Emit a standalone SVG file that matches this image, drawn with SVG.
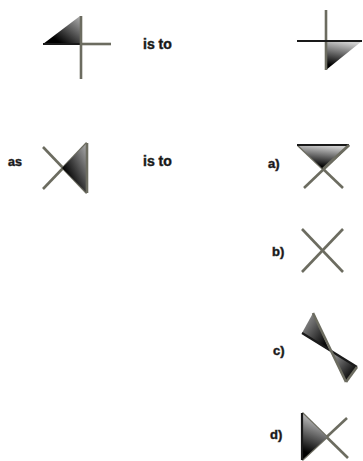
<svg xmlns="http://www.w3.org/2000/svg" width="363" height="461" viewBox="0 0 363 461">
<style>
  .ln { stroke: #6c6c60; stroke-width: 2.6; stroke-linecap: butt; fill: none; }
  .dk { stroke: #1a1a1a; stroke-width: 2.2; fill: none; }
  .lbl { font-family: "Liberation Sans", Arial, sans-serif; font-weight: bold; fill: #111; stroke: #333; stroke-width: 0.5; }
</style>
<defs>
  <linearGradient id="gDiag" x1="0" y1="1" x2="1" y2="0">
    <stop offset="0.25" stop-color="#000"/>
    <stop offset="1" stop-color="#b0b0b0"/>
  </linearGradient>
  <linearGradient id="gDown" x1="0.4" y1="0" x2="0.2" y2="1">
    <stop offset="0" stop-color="#d0d0d0"/>
    <stop offset="0.85" stop-color="#000"/>
  </linearGradient>
  <linearGradient id="gTL" x1="0" y1="0" x2="1" y2="1">
    <stop offset="0" stop-color="#a8a8a8"/>
    <stop offset="0.8" stop-color="#0a0a0a"/>
  </linearGradient>
</defs>

<g id="fig1">
  <polygon points="43,44 80,16 80,44" fill="url(#gDiag)"/>
  <line class="dk" x1="43" y1="44" x2="81" y2="44"/>
  <line class="ln" x1="81" y1="44" x2="111" y2="44"/>
  <line class="ln" x1="81" y1="16" x2="81" y2="79"/>
</g>

<g id="isto1"><text class="lbl" x="143" y="49" font-size="14">is to</text></g>

<g id="fig2">
  <polygon points="326,41 362,41 326,70" fill="url(#gDown)"/>
  <line class="ln" x1="326" y1="10" x2="326" y2="70"/>
  <line class="dk" x1="297" y1="41" x2="362" y2="41"/>
</g>

<g id="as"><text class="lbl" x="8" y="166" font-size="12.5">as</text></g>

<g id="fig3">
  <line class="ln" x1="43" y1="147" x2="87" y2="193"/>
  <line class="ln" x1="43" y1="189" x2="87" y2="143"/>
  <polygon points="62,168 87,143 87,193" fill="url(#gDiag)"/>
  <line class="ln" x1="87" y1="143" x2="87" y2="193"/>
</g>

<g id="isto2"><text class="lbl" x="143" y="166" font-size="14">is to</text></g>

<g id="optA">
  <text class="lbl" x="268" y="168" font-size="13">a)</text>
  <line class="ln" x1="298" y1="145" x2="343" y2="188"/>
  <line class="ln" x1="349" y1="145" x2="304" y2="188"/>
  <polygon points="298,145 349,145 323,169" fill="url(#gDown)"/>
  <line class="dk" x1="297" y1="145" x2="349" y2="145"/>
  <line class="ln" x1="349" y1="145" x2="323" y2="169"/>
</g>

<g id="optB">
  <text class="lbl" x="272" y="256" font-size="13">b)</text>
  <line class="ln" x1="302" y1="229" x2="343" y2="272"/>
  <line class="ln" x1="343" y1="229" x2="302" y2="272"/>
</g>

<g id="optC">
  <text class="lbl" x="273" y="355" font-size="13">c)</text>
  <polygon points="313,313 302,333 330,351" fill="url(#gTL)"/>
  <polygon points="330,351 357,367 346,382" fill="url(#gTL)"/>
  <line class="dk" x1="302" y1="333" x2="357" y2="367" stroke-width="1.6"/>
  <line class="ln" x1="313" y1="313" x2="346" y2="382"/>
  <line class="ln" x1="357" y1="367" x2="346" y2="382"/>
</g>

<g id="optD">
  <text class="lbl" x="270" y="439" font-size="13">d)</text>
  <line class="ln" x1="302" y1="413" x2="348" y2="458"/>
  <line class="ln" x1="302" y1="460" x2="347" y2="418"/>
  <polygon points="302,413 302,460 327,437" fill="url(#gDown)"/>
  <line class="dk" x1="302" y1="413" x2="302" y2="460"/>
</g>
</svg>
